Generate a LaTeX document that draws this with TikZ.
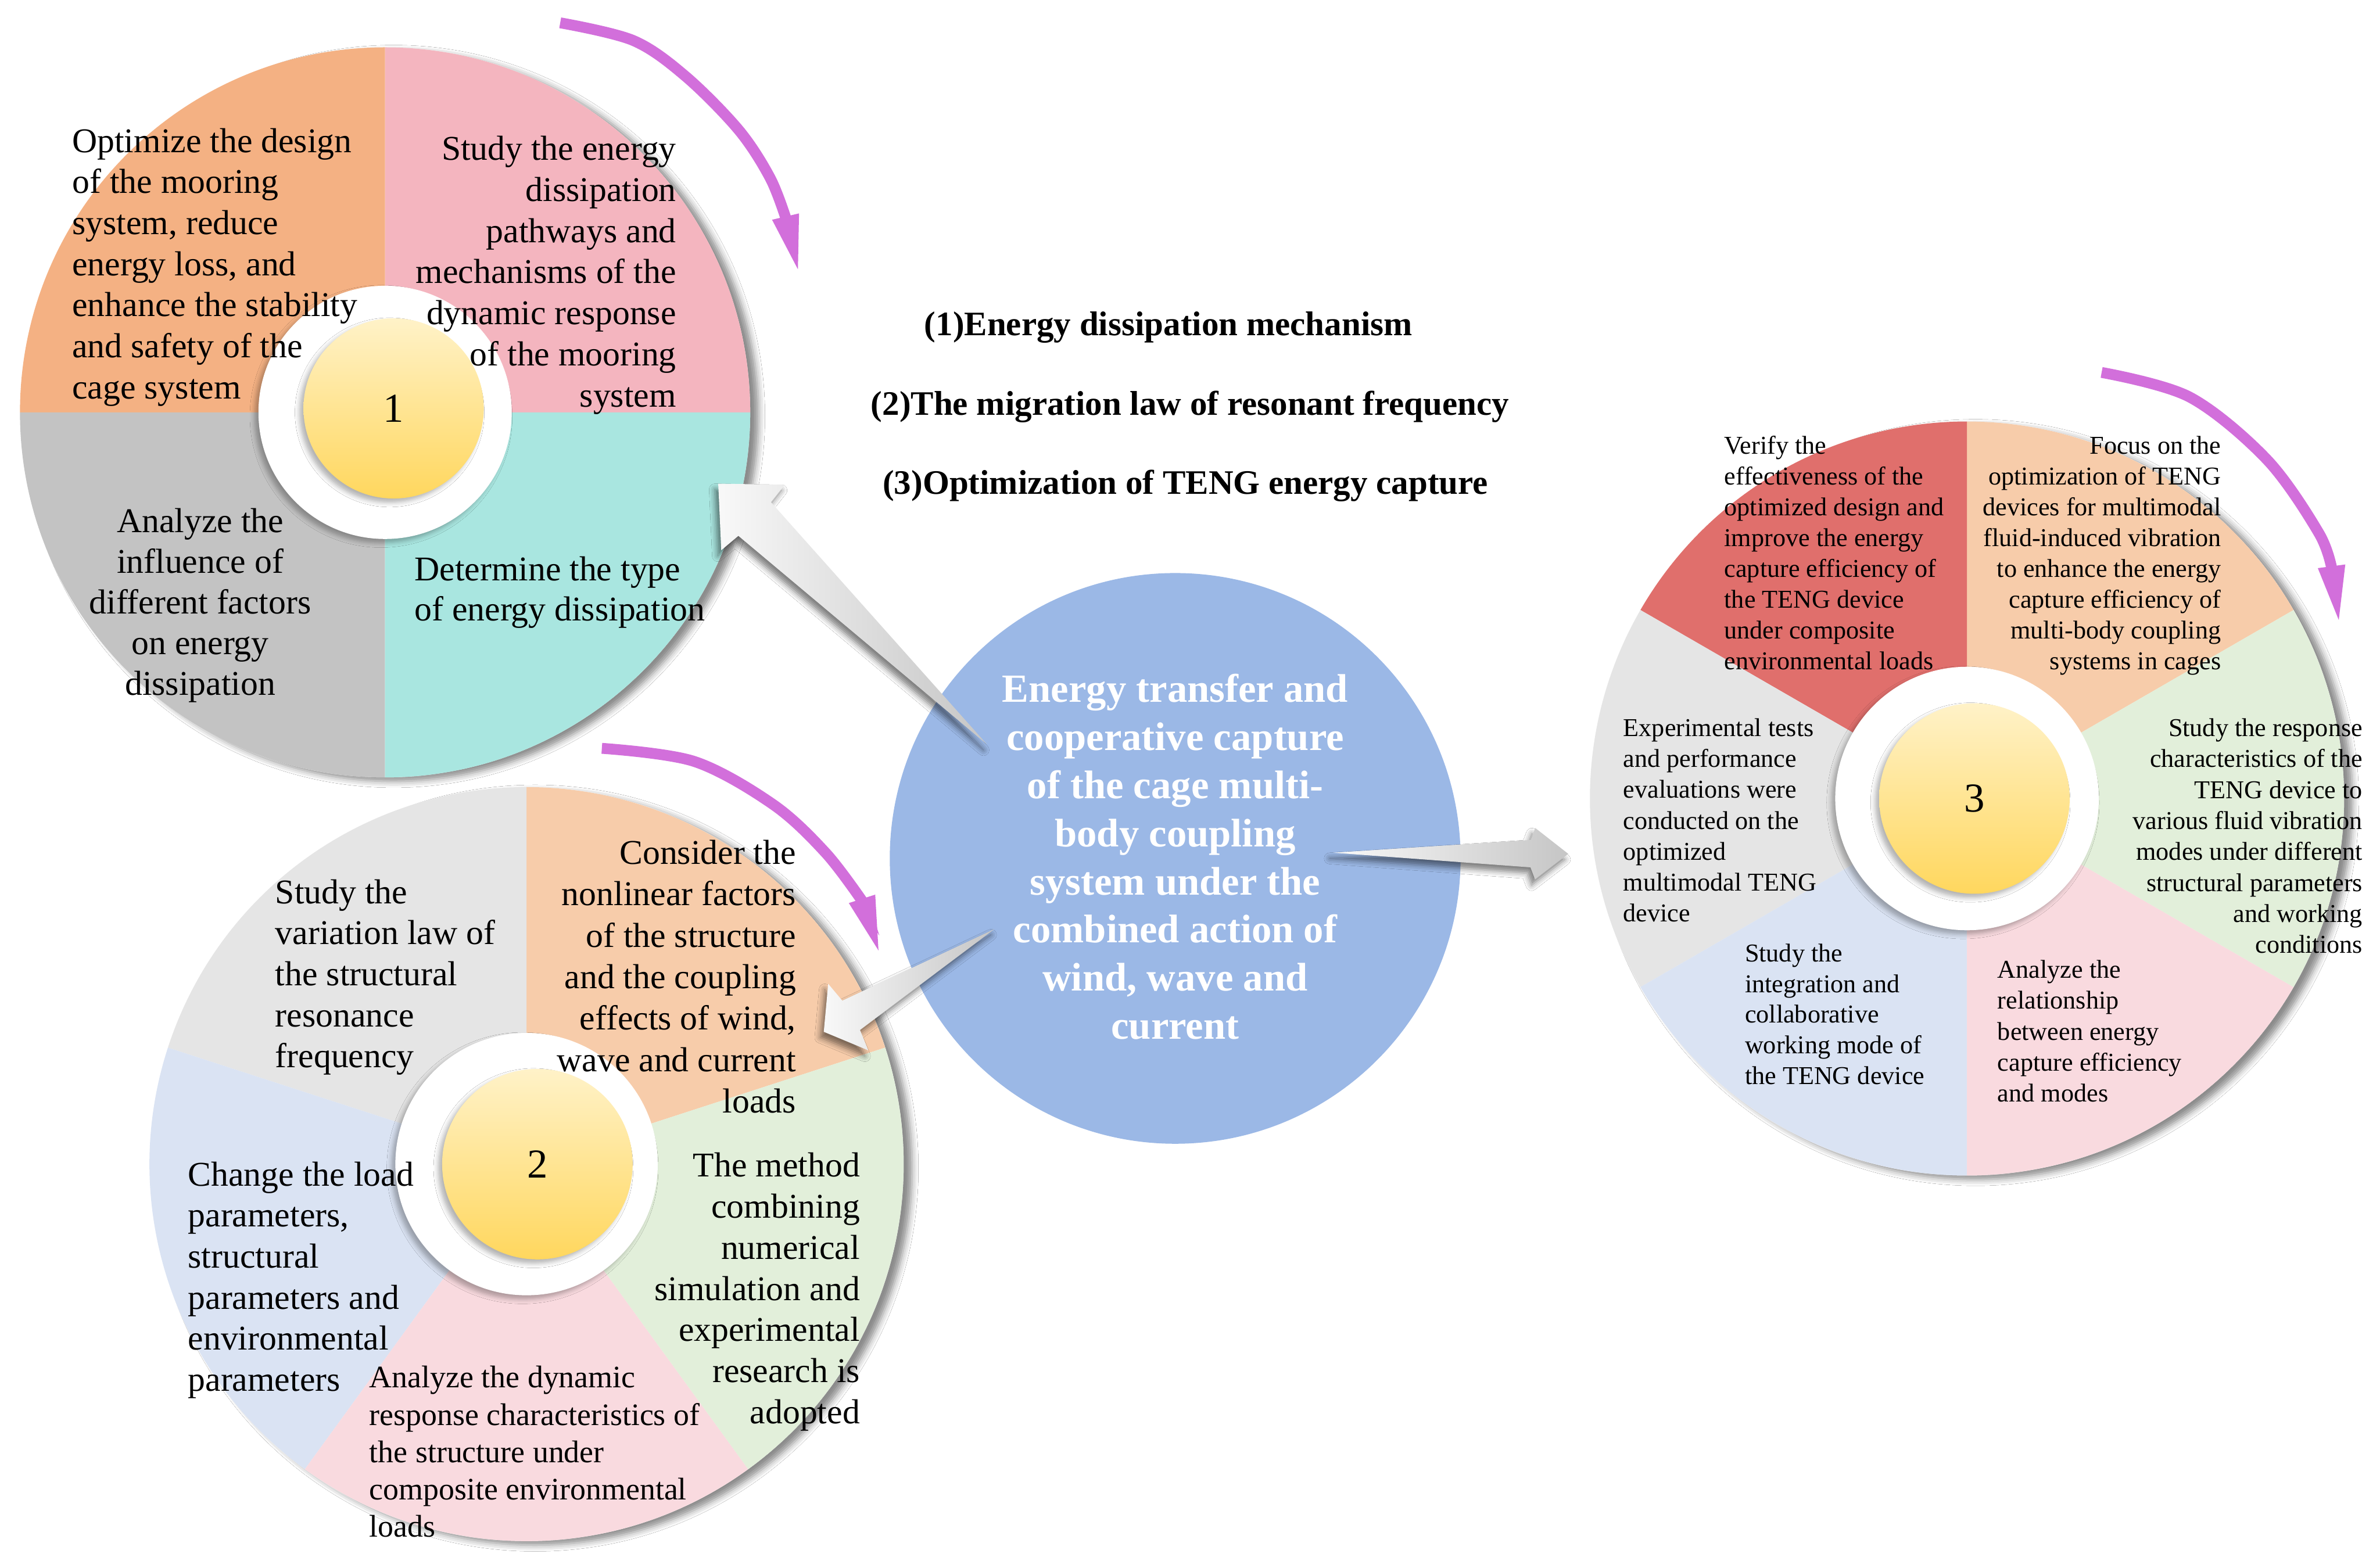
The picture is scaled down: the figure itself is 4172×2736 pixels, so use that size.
\documentclass[tikz,border=0pt]{standalone}
\usepackage{fontspec}
\setmainfont{Liberation Serif}
\usetikzlibrary{calc,shadows.blur,arrows.meta}

\definecolor{c1or}{HTML}{F4B183}
\definecolor{c1pk}{HTML}{F4B5BF}
\definecolor{c1cy}{HTML}{A9E6E0}
\definecolor{c1gy}{HTML}{C3C3C3}
\definecolor{lgray}{HTML}{E5E5E5}
\definecolor{lor}{HTML}{F7CCAA}
\definecolor{lgreen}{HTML}{E2EFDA}
\definecolor{lpink}{HTML}{F9DADF}
\definecolor{lblue}{HTML}{DAE3F3}
\definecolor{lred}{HTML}{E06F6C}
\definecolor{coreblue}{HTML}{9BB8E6}
\definecolor{purp}{HTML}{D26FDB}
\definecolor{ylight}{HTML}{FFF2C8}
\definecolor{ydark}{HTML}{FFD75E}

\newcommand\txtblock[7][]{\foreach \lineT [count=\lineI from 0] in {#7}{\node[inner sep=0pt,anchor=#6,#1] (#2-\lineI) at ({#3},{-#4-\lineI*#5}) {\lineT};}}
\newcommand\sector[5]{\fill[#1] (#2) -- ++(#3:#5) arc[start angle=#3, end angle=#4, radius=#5] -- cycle;}
\newcommand\fatarrow[7]{%
  \path ($(#3)!#4!(#2)$) coordinate (#1h) ($(#3)!#6!(#2)$) coordinate (#1n);
  \path ($(#1h)!#5!90:(#3)$) coordinate (#1b1) ($(#1h)!#5!-90:(#3)$) coordinate (#1b2)
        ($(#1n)!#7!-90:(#3)$) coordinate (#1n1) ($(#1n)!#7!90:(#3)$) coordinate (#1n2);
  \path[bigarrow] (#3) -- (#1b1) -- (#1n2) -- (#2) -- (#1n1) -- (#1b2) -- cycle;}

\begin{document}
\begin{tikzpicture}[x=0.01cm,y=0.01cm,
  t1/.style={font=\fontsize{17.3}{20.5}\selectfont},
  t2/.style={font=\fontsize{15.6}{18.6}\selectfont},
  t3/.style={font=\fontsize{12.8}{15.4}\selectfont},
  tc/.style={font=\bfseries\fontsize{19.9}{24}\selectfont, text=white},
  th/.style={font=\bfseries\fontsize{17.1}{20}\selectfont},
  num/.style={font=\fontsize{20.5}{24}\selectfont},
  discshadow/.style={blur shadow={shadow xshift=0.15cm, shadow yshift=-0.07cm, shadow blur radius=0.11cm, shadow opacity=45}},
  innershadow/.style={blur shadow={shadow xshift=-0.07cm, shadow yshift=-0.07cm, shadow blur radius=0.08cm, shadow opacity=30}},
  yball/.style={top color=ylight, bottom color=ydark, innershadow},
  bigarrow/.style={left color=gray!5, right color=gray!45, blur shadow={shadow xshift=-0.06cm, shadow yshift=-0.1cm, shadow blur radius=0.1cm, shadow opacity=50}},
  purparrow/.style={draw=purp, line width=0.19cm, -{Triangle[width=0.42cm, length=1.05cm]}},
]
\useasboundingbox (0,0) rectangle (4172,-2736);
\fill[white] (0,0) rectangle (4172,-2736);

% ---------- circle 1
\coordinate (c1) at (675,-723);
\fill[white, discshadow] (c1) circle[radius=640];
\sector{c1pk}{c1}{0}{90}{640}
\sector{c1or}{c1}{90}{180}{640}
\sector{c1gy}{c1}{180}{270}{640}
\sector{c1cy}{c1}{270}{360}{640}
\fill[white, innershadow] (c1) circle[radius=222];
\path[yball] (690,-716) circle[radius=158];
\node[num] (n1) at (690,-716) {1};

% ---------- circle 2
\coordinate (c2) at (923,-2041);
\fill[white, discshadow] (c2) circle[radius=661];
\sector{lor}{c2}{18}{90}{661}
\sector{lgray}{c2}{90}{162}{661}
\sector{lblue}{c2}{162}{234}{661}
\sector{lpink}{c2}{234}{306}{661}
\sector{lgreen}{c2}{306}{378}{661}
\fill[white, innershadow] (c2) circle[radius=230];
\path[yball] (942,-2041) circle[radius=167];
\node[num] (n2) at (942,-2041) {2};

% ---------- circle 3
\coordinate (c3) at (3448,-1400);
\fill[white, discshadow] (c3) circle[radius=661];
\sector{lor}{c3}{30}{90}{661}
\sector{lred}{c3}{90}{150}{661}
\sector{lgray}{c3}{150}{210}{661}
\sector{lblue}{c3}{210}{270}{661}
\sector{lpink}{c3}{270}{330}{661}
\sector{lgreen}{c3}{330}{390}{661}
\fill[white, innershadow] (c3) circle[radius=231];
\path[yball] (3461,-1400) circle[radius=167];
\node[num] (n3) at (3461,-1400) {3};

% ---------- purple arrows
\draw[purparrow] plot[smooth, tension=0.55] coordinates {(982,-40) (1110,-71) (1202,-134) (1295,-228) (1350,-312) (1378,-384)} -- (1401,-482);
\draw[purparrow] plot[smooth, tension=0.55] coordinates {(1055,-1312) (1217,-1335) (1356,-1411) (1448,-1496) (1513,-1582)} -- (1543,-1676);
\draw[purparrow] plot[smooth, tension=0.55] coordinates {(3684,-653) (3838,-696) (3974,-806) (4065,-935) (4088,-1000)} -- (4101,-1097);

% ---------- core
\node[circle, fill=coreblue, minimum size=10cm, inner sep=0pt] (core) at (2060,-1505) {};

% ---------- big arrows
\coordinate (a1tail) at (1730,-1305); \coordinate (a1tip) at (1259,-848);
\fatarrow{a1}{a1tail}{a1tip}{0.85cm}{0.80cm}{0.89cm}{0.41cm}
\coordinate (a2tail) at (1743,-1629); \coordinate (a2tip) at (1444,-1809);
\fatarrow{a2}{a2tail}{a2tip}{0.50cm}{0.68cm}{0.56cm}{0.30cm}
\coordinate (a3tail) at (2337,-1495); \coordinate (a3tip) at (2749,-1497);
\fatarrow{a3}{a3tail}{a3tip}{0.58cm}{0.45cm}{0.66cm}{0.24cm}

% ---------- texts circle 1
\txtblock[t1]{c1a}{126}{267}{72}{base west}{{Optimize the design},{of the mooring},{system, reduce},{energy loss, and},{enhance the stability},{and safety of the},{cage system}}
\txtblock[t1]{c1b}{1186}{281}{72}{base east}{{Study the energy},{dissipation},{pathways and},{mechanisms of the},{dynamic response},{of the mooring},{system}}
\txtblock[t1]{c1c}{351}{933}{71.5}{base}{{Analyze the},{influence of},{different factors},{on energy},{dissipation}}
\txtblock[t1]{c1d}{726}{1018}{70}{base west}{{Determine the type},{of energy dissipation}}

% ---------- texts circle 2
\txtblock[t1]{c2a}{482}{1584}{72}{base west}{{Study the},{variation law of},{the structural},{resonance},{frequency}}
\txtblock[t1]{c2b}{1396}{1515}{72.7}{base east}{{Consider the},{nonlinear factors},{of the structure},{and the coupling},{effects of wind,},{wave and current},{loads}}
\txtblock[t1]{c2c}{1508}{2063}{72.2}{base east}{{The method},{combining},{numerical},{simulation and},{experimental},{research is},{adopted}}
\txtblock[t2]{c2d}{647}{2433}{65.5}{base west}{{Analyze the dynamic},{response characteristics of},{the structure under},{composite environmental},{loads}}
\txtblock[t1]{c2e}{329}{2079}{72}{base west}{{Change the load},{parameters,},{structural},{parameters and},{environmental},{parameters}}

% ---------- texts circle 3
\txtblock[t3]{c3a}{3022}{796}{54}{base west}{{Verify the},{effectiveness of the},{optimized design and},{improve the energy},{capture efficiency of},{the TENG device},{under composite},{environmental loads}}
\txtblock[t3]{c3b}{3894}{796}{54}{base east}{{Focus on the},{optimization of TENG},{devices for multimodal},{fluid-induced vibration},{to enhance the energy},{capture efficiency of},{multi-body coupling},{systems in cages}}
\txtblock[t3]{c3c}{4142}{1291}{54.3}{base east}{{Study the response},{characteristics of the},{TENG device to},{various fluid vibration},{modes under different},{structural parameters},{and working},{conditions}}
\txtblock[t3]{c3d}{2845}{1291}{54.2}{base west}{{Experimental tests},{and performance},{evaluations were},{conducted on the},{optimized},{multimodal TENG},{device}}
\txtblock[t3]{c3e}{3058}{1686}{53.8}{base west}{{Study the},{integration and},{collaborative},{working mode of},{the TENG device}}
\txtblock[t3]{c3f}{3501}{1715}{54.2}{base west}{{Analyze the},{relationship},{between energy},{capture efficiency},{and modes}}

% ---------- core text
\txtblock[tc]{ct}{2060}{1231}{84.4}{base}{{Energy transfer and},{cooperative capture},{of the cage multi-},{body coupling},{system under the},{combined action of},{wind, wave and},{current}}

% ---------- headings
\node[th, anchor=base] (h1) at (2048,-588) {(1)Energy dissipation mechanism};
\node[th, anchor=base] (h2) at (2086,-728) {(2)The migration law of resonant frequency};
\node[th, anchor=base] (h3) at (2078,-866) {(3)Optimization of TENG energy capture};
\end{tikzpicture}
\end{document}
